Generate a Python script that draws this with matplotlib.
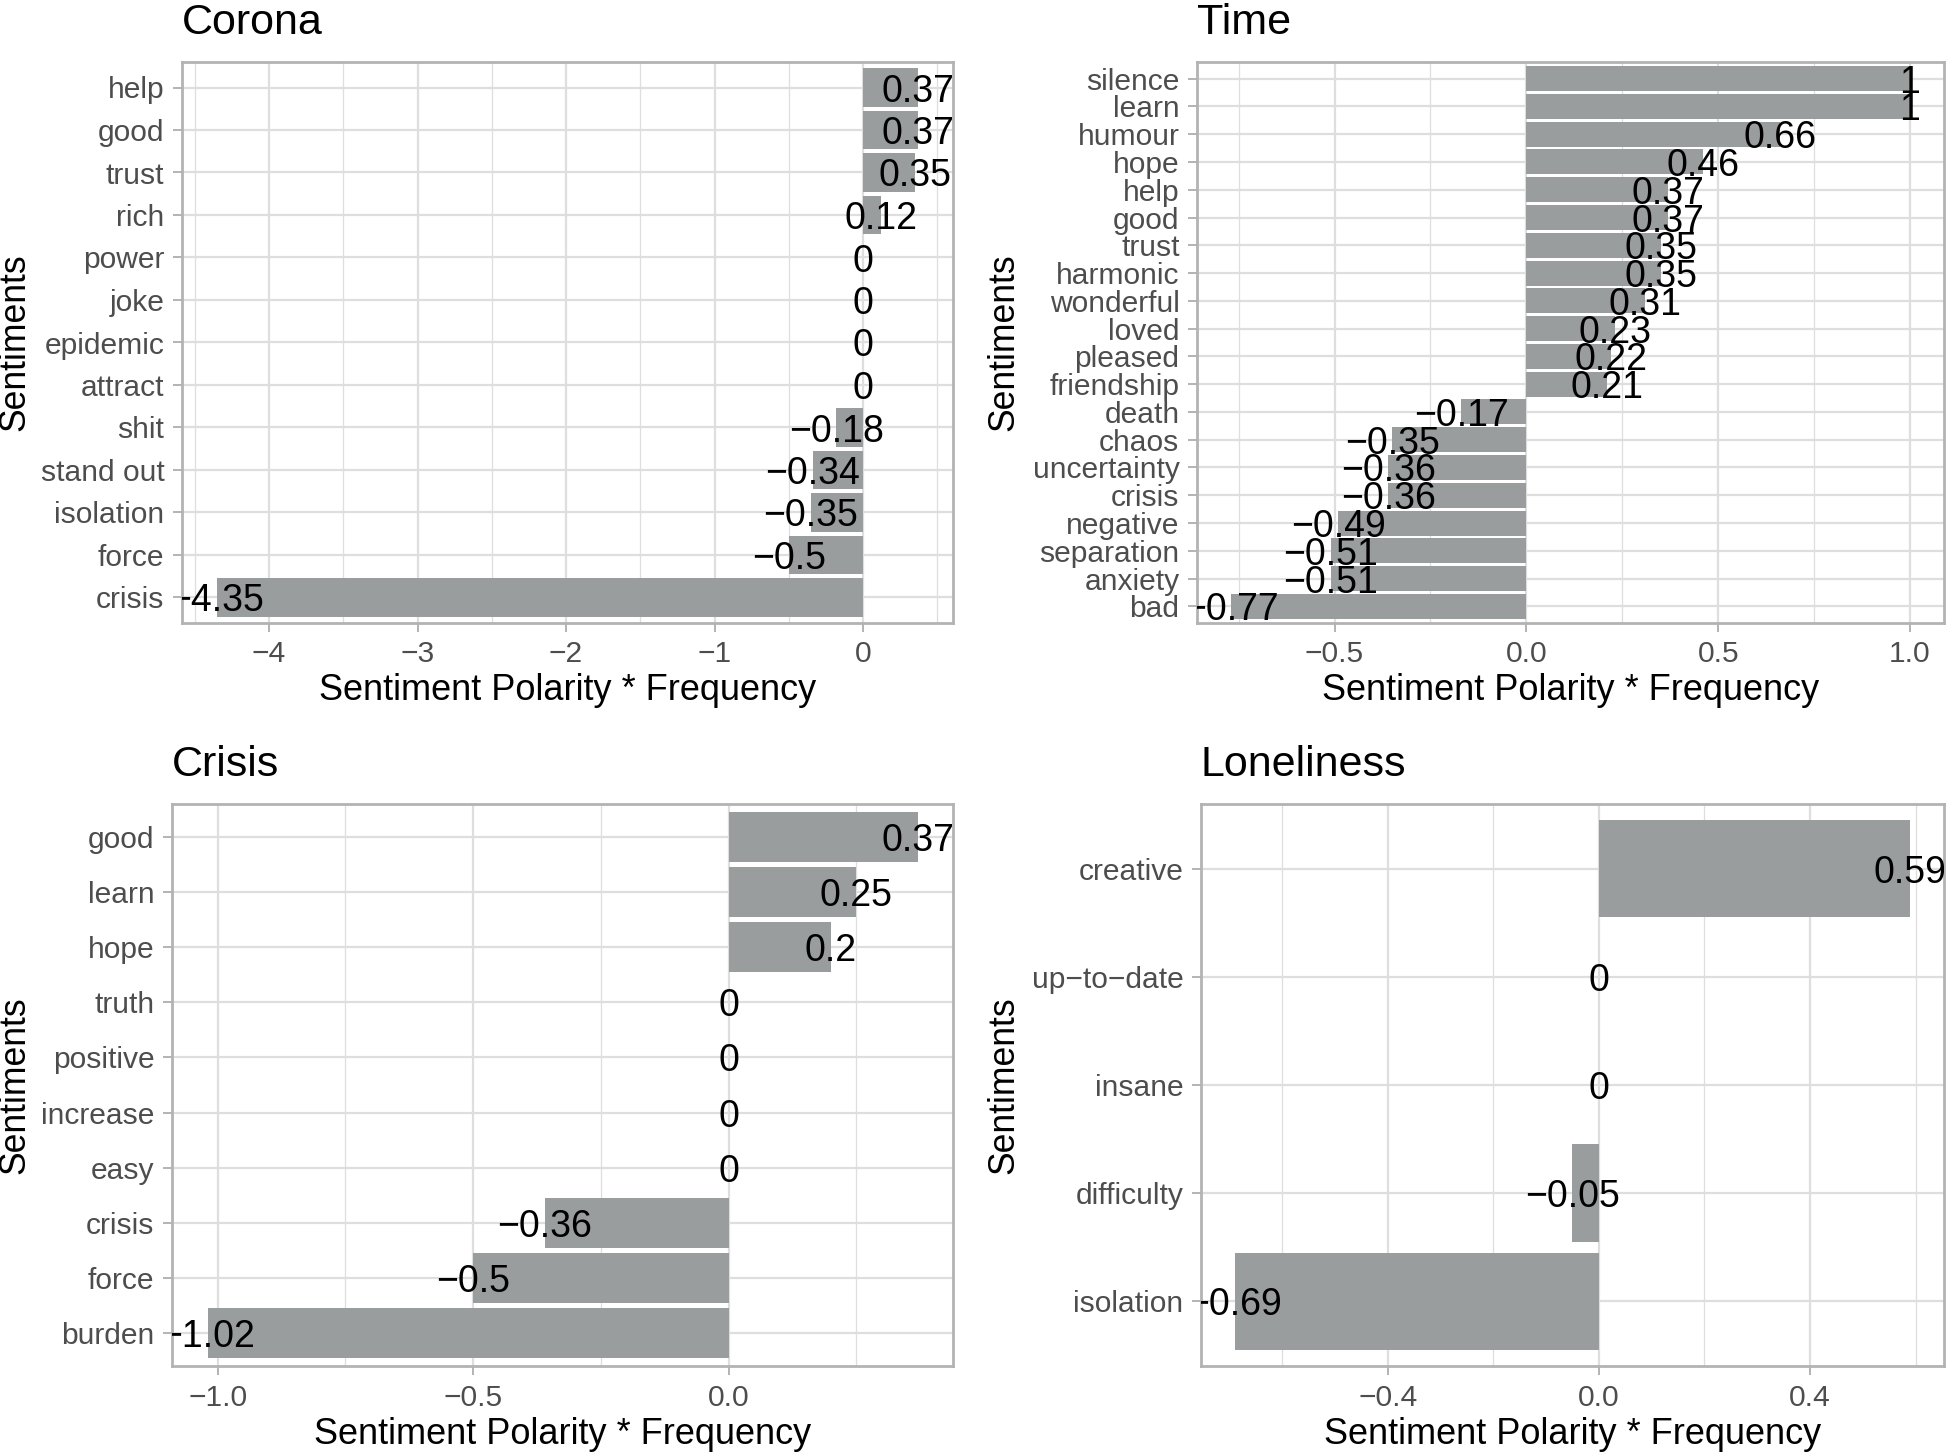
import matplotlib
matplotlib.use("Agg")
import matplotlib.pyplot as plt
from matplotlib.ticker import MultipleLocator, FuncFormatter

plt.rcParams["font.family"] = ["Liberation Sans", "DejaVu Sans"]

# data, listed top to bottom as in the chart
corona_words = ["help", "good", "trust", "rich", "power", "joke", "epidemic",
                "attract", "shit", "stand out", "isolation", "force", "crisis"]
corona_vals = [0.37, 0.37, 0.35, 0.12, 0, 0, 0, 0, -0.18, -0.34, -0.35, -0.5, -4.35]

time_words = ["silence", "learn", "humour", "hope", "help", "good", "trust",
              "harmonic", "wonderful", "loved", "pleased", "friendship", "death",
              "chaos", "uncertainty", "crisis", "negative", "separation",
              "anxiety", "bad"]
time_vals = [1, 1, 0.66, 0.46, 0.37, 0.37, 0.35, 0.35, 0.31, 0.23, 0.22, 0.21,
             -0.17, -0.35, -0.36, -0.36, -0.49, -0.51, -0.51, -0.77]

crisis_words = ["good", "learn", "hope", "truth", "positive", "increase", "easy",
                "crisis", "force", "burden"]
crisis_vals = [0.37, 0.25, 0.2, 0, 0, 0, 0, -0.36, -0.5, -1.02]

lonely_words = ["creative", "up\u2212to\u2212date", "insane", "difficulty", "isolation"]
lonely_vals = [0.59, 0, 0, -0.05, -0.69]

W, H = 1952, 1452
fig = plt.figure(figsize=(W / 200, H / 200), dpi=200)

BAR = "#9a9d9d"
GRID = "#dedede"
FRAME = "#b3b3b3"
TICKTXT = "#4d4d4d"


def fmt_num(v):
    s = ("%.2f" % v).rstrip("0").rstrip(".")
    if s in ("-0", ""):
        s = "0"
    return s.replace("-", "\u2212")


def tick_fmt(dec):
    def f(v, pos):
        s = ("%." + str(dec) + "f") % v
        if float(s) == 0:
            s = ("%." + str(dec) + "f") % 0
        return s.replace("-", "\u2212")
    return FuncFormatter(f)


def panel(rect_px, title, words, vals, major, minor, dec, ylab_x):
    l, r, t, b = rect_px
    ax = fig.add_axes([l / W, 1 - b / H, (r - l) / W, (b - t) / H])
    n = len(words)
    ypos = list(range(n - 1, -1, -1))
    ax.barh(ypos, vals, height=0.9, color=BAR, zorder=2)
    for y, v in zip(ypos, vals):
        ax.text(v, y, fmt_num(v), ha="center", va="center_baseline",
                fontsize=13.5, color="black", zorder=3, clip_on=True)
    lo = min(min(vals), 0)
    hi = max(max(vals), 0)
    pad = 0.05 * (hi - lo)
    ax.set_xlim(lo - pad, hi + pad)
    ax.set_ylim(-0.6, n - 1 + 0.6)
    ax.set_yticks(ypos)
    ax.set_yticklabels(words)
    ax.xaxis.set_major_locator(MultipleLocator(major))
    ax.xaxis.set_minor_locator(MultipleLocator(minor))
    ax.xaxis.set_major_formatter(tick_fmt(dec))
    ax.set_axisbelow(True)
    ax.grid(True, which="major", color=GRID, linewidth=0.8, zorder=0)
    ax.grid(True, which="minor", axis="x", color=GRID, linewidth=0.45, zorder=0)
    for s in ax.spines.values():
        s.set_color(FRAME)
        s.set_linewidth(1.0)
    ax.tick_params(which="major", length=3.3, width=0.7, color=FRAME,
                   labelsize=10.8, labelcolor=TICKTXT, pad=3)
    ax.tick_params(which="minor", length=0)
    ax.set_title(title, loc="left", fontsize=15.5, pad=10)
    ax.set_xlabel("Sentiment Polarity * Frequency", fontsize=13, va="center")
    ax.xaxis.set_label_coords(0.5, -68 / (b - t))
    ax.set_ylabel("Sentiments", fontsize=12.8, va="center")
    ax.yaxis.set_label_coords((ylab_x - l) / (r - l), 0.5)
    return ax


panel((182, 953, 62, 623), "Corona", corona_words, corona_vals, 1, 0.5, 0, 15)
panel((1197, 1944, 62, 623), "Time", time_words, time_vals, 0.5, 0.25, 1, 1004)
panel((172, 953, 804, 1366), "Crisis", crisis_words, crisis_vals, 0.5, 0.25, 1, 15)
panel((1201, 1944, 804, 1366), "Loneliness", lonely_words, lonely_vals, 0.4, 0.2, 1, 1004)

fig.savefig("out.png", dpi=200, facecolor="white")
